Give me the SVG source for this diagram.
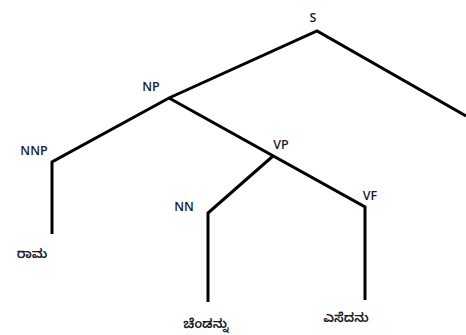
<svg xmlns="http://www.w3.org/2000/svg" width="466" height="335" viewBox="0 0 466 335">
<style>
.e{stroke:#000;stroke-width:3;fill:none;stroke-linecap:butt;stroke-linejoin:miter}
.t{font-family:"Open Sans","Liberation Sans",sans-serif;font-size:12.5px;font-weight:600;fill:#1a1a2e}
.k{font-family:"Noto Sans Kannada","Noto Sans",sans-serif;font-size:13px;font-weight:600;fill:#1a1a2e}
</style>
<rect width="466" height="335" fill="#fff"/>
<g id="connectors">
<polyline class="e" points="466,116 317,31 169,98 52,162 52,234"/>
<polyline class="e" points="169,98 365,207 365,300"/>
<polyline class="e" points="273,156 208,213 208,302"/>
</g>
<g id="S"><text class="t" x="313" y="22" text-anchor="middle">S</text></g>
<g id="NP"><text class="t" x="151" y="91" text-anchor="middle">NP</text></g>
<g id="NNP"><text class="t" x="34" y="155" text-anchor="middle">NNP</text></g>
<g id="VP"><text class="t" x="281" y="149" text-anchor="middle">VP</text></g>
<g id="NN"><text class="t" x="184" y="211" text-anchor="middle">NN</text></g>
<g id="VF"><text class="t" x="370" y="200" text-anchor="middle">VF</text></g>
<g id="rama"><text class="k" x="32" y="258" text-anchor="middle">ರಾಮ</text></g>
<g id="chendannu"><text class="k" x="206" y="328" text-anchor="middle">ಚೆಂಡನ್ನು</text></g>
<g id="esedanu"><text class="k" x="346" y="322" text-anchor="middle">ಎಸೆದನು</text></g>
</svg>
